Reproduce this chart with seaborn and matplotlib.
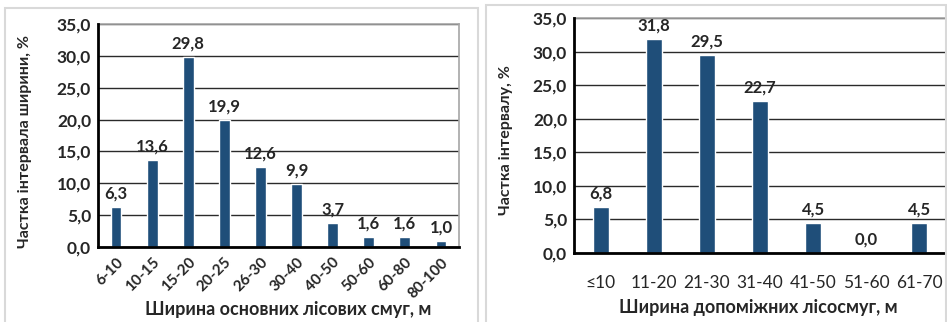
import matplotlib
matplotlib.use("Agg")
import matplotlib.pyplot as plt
from matplotlib.patches import Rectangle
import seaborn as sns
import pandas as pd

# Main forest belts: width intervals and their shares
main_widths = ["6-10", "10-15", "15-20", "20-25", "26-30", "30-40", "40-50", "50-60", "60-80", "80-100"]
main_share = [6.3, 13.6, 29.8, 19.9, 12.6, 9.9, 3.7, 1.6, 1.6, 1.0]

# Auxiliary forest belts: width intervals and their shares
aux_widths = ["≤10", "11-20", "21-30", "31-40", "41-50", "51-60", "61-70"]
aux_share = [6.8, 31.8, 29.5, 22.7, 4.5, 0.0, 4.5]

y_ticks = [0, 5, 10, 15, 20, 25, 30, 35]

sns.set_theme(style="white")
FONT = ["Lato", "DejaVu Sans"]
plt.rcParams["font.family"] = FONT

BAR = "#1F4E79"
W, H = 947, 322
fig = plt.figure(figsize=(W / 100, H / 100), dpi=100)


def box(x0, y0, x1, y1):
    return [x0 / W, 1 - y1 / H, (x1 - x0) / W, (y1 - y0) / H]


def px(x, y):
    return x / W, 1 - y / H


def fmt(v):
    return f"{v:.1f}".replace(".", ",")


# panel frames
for x0, y0, x1 in [(5, 8, 478), (486, 5, 946)]:
    fig.patches.append(Rectangle((x0 / W, -0.1), (x1 - x0) / W, 1.1 - y0 / H,
                                 transform=fig.transFigure, fill=False,
                                 edgecolor="#d9d9d9", linewidth=1.5))


def panel(rect, cats, vals, xlabel, ylabel, rotate, xl_pos, yl_pos):
    ax = fig.add_axes(box(*rect))
    df = pd.DataFrame({"cat": cats, "val": vals})
    sns.barplot(data=df, x="cat", y="val", color=BAR, width=0.3,
                saturation=1, ax=ax, zorder=3)
    ax.set_ylim(0, 35)
    ax.set_yticks(y_ticks)
    ax.set_yticklabels([fmt(t) for t in y_ticks], fontsize=12.5, fontweight="bold")
    ax.yaxis.grid(True, color="#2a2a2a", linewidth=1.0, zorder=0)
    ax.set_axisbelow(True)
    for s in ["top", "right"]:
        ax.spines[s].set_color("#a6a6a6")
        ax.spines[s].set_linewidth(1.2)
    for s in ["left", "bottom"]:
        ax.spines[s].set_color("black")
        ax.spines[s].set_linewidth(2.0)
    ax.spines["left"].set_zorder(4)
    ax.spines["bottom"].set_zorder(4)
    ax.tick_params(axis="both", length=0, pad=5)
    ax.set_xticks(range(len(cats)))
    if rotate:
        ax.set_xticklabels(cats, rotation=45, ha="right", rotation_mode="anchor",
                           fontsize=11, fontweight="bold")
        ax.tick_params(axis="x", pad=6)
    else:
        ax.set_xticklabels(cats, fontsize=12.5)
        ax.tick_params(axis="x", pad=16)
    ax.bar_label(ax.containers[0], labels=[fmt(v) for v in vals], padding=4,
                 fontsize=12, fontweight="bold", zorder=5)
    ax.set_xlabel("")
    ax.set_ylabel("")
    fig.text(*px(*xl_pos), xlabel, fontsize=13, fontweight="bold",
             ha="center", va="center")
    fig.text(*px(*yl_pos), ylabel, fontsize=11.5, fontweight="bold",
             ha="center", va="center", rotation=90)
    return ax


panel((98, 24, 459, 247), main_widths, main_share,
      "Ширина основних лісових смуг, м", "Частка інтервала ширини, %", True,
      (288, 309), (25, 141))

panel((574, 18, 946, 253), aux_widths, aux_share,
      "Ширина допоміжних лісосмуг, м", "Частка інтервалу, %", False,
      (758, 307), (506, 140))

fig.savefig("out.png", dpi=100)
